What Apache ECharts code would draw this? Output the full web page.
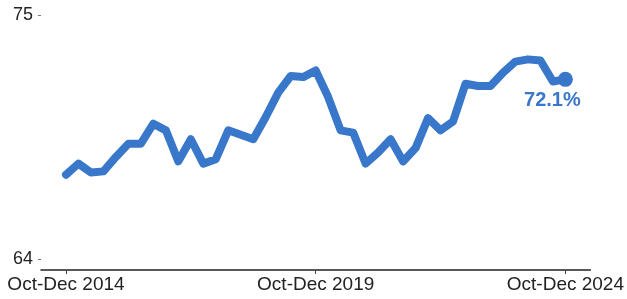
<!DOCTYPE html>
<html>
<head>
<meta charset="utf-8">
<script src="https://cdn.jsdelivr.net/npm/echarts@6/dist/echarts.min.js"></script>
<style>html,body{margin:0;padding:0;background:#fff}#c{width:627px;height:299px}</style>
</head>
<body>
<div id="c"></div>
<script>
const categories = [
  'Oct-Dec 2014','Jan-Mar 2015','Apr-Jun 2015','Jul-Sep 2015','Oct-Dec 2015',
  'Jan-Mar 2016','Apr-Jun 2016','Jul-Sep 2016','Oct-Dec 2016',
  'Jan-Mar 2017','Apr-Jun 2017','Jul-Sep 2017','Oct-Dec 2017',
  'Jan-Mar 2018','Apr-Jun 2018','Jul-Sep 2018','Oct-Dec 2018',
  'Jan-Mar 2019','Apr-Jun 2019','Jul-Sep 2019','Oct-Dec 2019',
  'Jan-Mar 2020','Apr-Jun 2020','Jul-Sep 2020','Oct-Dec 2020',
  'Jan-Mar 2021','Apr-Jun 2021','Jul-Sep 2021','Oct-Dec 2021',
  'Jan-Mar 2022','Apr-Jun 2022','Jul-Sep 2022','Oct-Dec 2022',
  'Jan-Mar 2023','Apr-Jun 2023','Jul-Sep 2023','Oct-Dec 2023',
  'Jan-Mar 2024','Apr-Jun 2024','Jul-Sep 2024','Oct-Dec 2024'
];
const values = [
  67.8, 68.3, 67.9, 67.95, 68.6,
  69.2, 69.2, 70.1, 69.8,
  68.4, 69.4, 68.3, 68.5,
  69.8, 69.6, 69.4, 70.4,
  71.5, 72.25, 72.2, 72.5,
  71.3, 69.8, 69.7, 68.3,
  68.8, 69.4, 68.4, 69.0,
  70.35, 69.8, 70.2, 71.9,
  71.8, 71.8, 72.4, 72.9,
  73.0, 72.95, 72.0, 72.1
];
const xTickLabels = ['Oct-Dec 2014', 'Oct-Dec 2019', 'Oct-Dec 2024'];
const yTickValues = [64, 75];

const xTickIdx = xTickLabels.map(l => categories.indexOf(l));
const lineData = values.map((v, i) => [i, v]);
const lastIdx = values.length - 1;
const blue = '#3877c9';
const FONT = 'Liberation Sans, Arial, sans-serif';

const chart = echarts.init(document.getElementById('c'), null, {renderer: 'canvas'});
chart.setOption({
  animation: false,
  grid: {left: 41, right: 36, top: 15, bottom: 40, containLabel: false},
  xAxis: {
    type: 'value',
    min: -2, max: 42,
    offset: 11,
    splitLine: {show: false},
    axisLine: {show: true, onZero: false, lineStyle: {color: '#222', width: 1.5}},
    axisTick: {show: true, customValues: xTickIdx, length: 4, lineStyle: {color: '#444', width: 1}},
    axisLabel: {
      customValues: xTickIdx,
      formatter: v => categories[Math.round(v)] || '',
      color: '#222', fontSize: 19, fontFamily: FONT, margin: 5
    }
  },
  yAxis: {
    type: 'value',
    min: 64, max: 75,
    splitLine: {show: false},
    axisLine: {show: false, onZero: false},
    axisTick: {show: true, customValues: yTickValues, length: 3, lineStyle: {color: '#777', width: 1}},
    axisLabel: {
      customValues: yTickValues,
      color: '#222', fontSize: 18, fontFamily: FONT, margin: 8
    }
  },
  series: [
    {
      type: 'line',
      data: lineData,
      showSymbol: false,
      symbol: 'none',
      lineStyle: {color: blue, width: 8, join: 'round', cap: 'round'},
      z: 2
    },
    {
      type: 'scatter',
      data: [[lastIdx, values[lastIdx]]],
      symbol: 'circle',
      symbolSize: 15,
      itemStyle: {color: blue, opacity: 1},
      label: {
        show: true,
        position: 'inside',
        offset: [-13, 21],
        formatter: p => p.value[1].toFixed(1) + '%',
        color: blue,
        fontSize: 20,
        fontWeight: 'bold',
        fontFamily: FONT
      },
      z: 3
    }
  ]
});
</script>
</body>
</html>
